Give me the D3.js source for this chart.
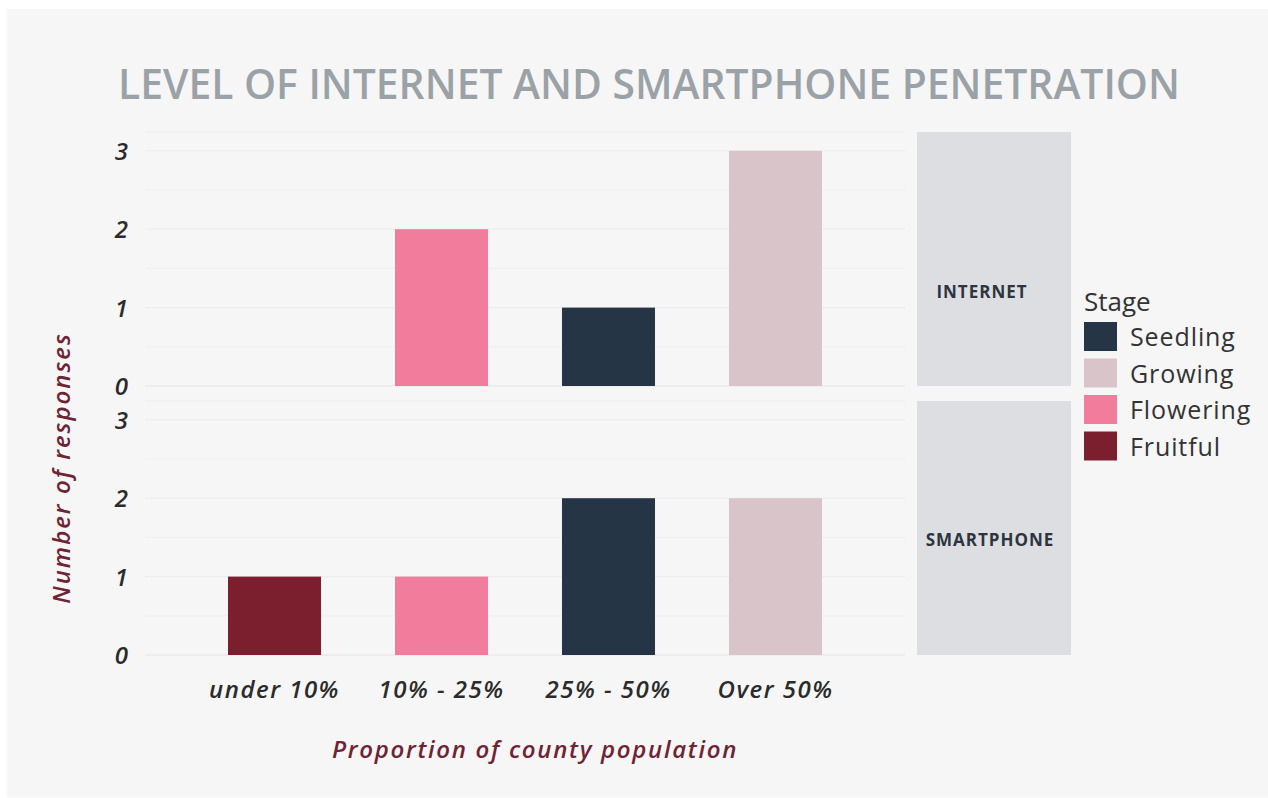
<!DOCTYPE html>
<html lang="en">
<head>
<meta charset="utf-8">
<title>internet and smartphone penetration</title>
<script src="https://d3js.org/d3.v7.min.js"></script>
<style>
  body{margin:0;background:#fff;font-family:"Open Sans",sans-serif;}
</style>
</head>
<body>
<div id="chart"></div>
<script>
// data
var categories = ["under 10%", "10% - 25%", "25% - 50%", "Over 50%"]
var stages = ["Seedling", "Growing", "Flowering", "Fruitful"]
var stageColors = ["#253545", "#d9c5c9", "#f17c9b", "#7b1f2e"]
var facets = ["INTERNET", "SMARTPHONE"]
var yTicks = [0, 1, 2, 3]

// one entry per bar: category, stage, count
var internetBars = [
  {cat: "10% - 25%", stage: "Flowering", value: 2},
  {cat: "25% - 50%", stage: "Seedling", value: 1},
  {cat: "Over 50%", stage: "Growing", value: 3}
]
var smartphoneBars = [
  {cat: "under 10%", stage: "Fruitful", value: 1},
  {cat: "10% - 25%", stage: "Flowering", value: 1},
  {cat: "25% - 50%", stage: "Seedling", value: 2},
  {cat: "Over 50%", stage: "Growing", value: 2}
]
var facetData = [internetBars, smartphoneBars]

var W = 1268, H = 798
var svg = d3.select("#chart").append("svg").attr("width", W).attr("height", H)

// background card
svg.append("rect").attr("x", 7).attr("y", 9).attr("width", W - 7).attr("height", 788).attr("fill", "#f6f6f6")

svg.append("text")
  .attr("x", 649).attr("y", 99)
  .attr("text-anchor", "middle")
  .attr("font-size", 40.8).attr("font-weight", 600)
  .attr("fill", "#9ba2a7")
  .text("LEVEL OF INTERNET AND SMARTPHONE PENETRATION")

var plotLeft = 145, plotRight = 905
var panelH = 254, panelTops = [132, 401]
var stripX = 917, stripW = 154
var stripLabelOffset = [160, 139]

var x = d3.scaleBand().domain(categories).range([plotLeft, plotRight]).paddingInner(0.443).paddingOuter(0.497)
var color = d3.scaleOrdinal().domain(stages).range(stageColors)

facets.forEach(function(name, i){
  var top = panelTops[i]
  var y = d3.scaleLinear().domain([0, 3.24]).range([top + panelH, top])
  var g = svg.append("g")

  // minor grid
  g.selectAll(".minor")
    .data([0.5, 1.5, 2.5])
    .enter().append("line")
    .attr("x1", plotLeft).attr("x2", plotRight)
    .attr("y1", function(d){ return y(d) }).attr("y2", function(d){ return y(d) })
    .attr("stroke", "#efefef").attr("stroke-width", 1)

  // major grid
  g.selectAll(".major")
    .data(yTicks)
    .enter().append("line")
    .attr("x1", plotLeft).attr("x2", plotRight)
    .attr("y1", function(d){ return y(d) }).attr("y2", function(d){ return y(d) })
    .attr("stroke", function(d){ return d === 0 ? "#e4e4e4" : "#ebebeb" }).attr("stroke-width", 1)

  // top border line of panel
  g.append("line")
    .attr("x1", plotLeft).attr("x2", plotRight)
    .attr("y1", top).attr("y2", top)
    .attr("stroke", "#eeeeee")

  // y tick labels
  g.selectAll(".ytick")
    .data(yTicks)
    .enter().append("text")
    .attr("x", 128).attr("y", function(d){ return y(d) + 9 })
    .attr("text-anchor", "end")
    .attr("font-size", 24).attr("font-style", "italic").attr("font-weight", 600)
    .attr("fill", "#2b2b2b")
    .text(function(d){ return d })

  // bars
  g.selectAll(".bar")
    .data(facetData[i])
    .enter().append("rect")
    .attr("x", function(d){ return x(d.cat) })
    .attr("width", x.bandwidth())
    .attr("y", function(d){ return y(d.value) })
    .attr("height", function(d){ return y(0) - y(d.value) })
    .attr("fill", function(d){ return color(d.stage) })

  // facet strip
  g.append("rect")
    .attr("x", stripX).attr("y", top).attr("width", stripW).attr("height", panelH)
    .attr("fill", "#dcdee1")
  g.append("text")
    .attr("x", stripX + stripW / 2 - (i === 0 ? 12 : 4)).attr("y", top + stripLabelOffset[i] + 6)
    .attr("text-anchor", "middle")
    .attr("font-size", 17).attr("font-weight", 700)
    .attr("letter-spacing", 1)
    .attr("fill", "#2e3540")
    .text(name)
})

// x tick labels
svg.selectAll(".xtick")
  .data(categories)
  .enter().append("text")
  .attr("x", function(d){ return x(d) + x.bandwidth() / 2 })
  .attr("y", 698)
  .attr("text-anchor", "middle")
  .attr("font-size", 24).attr("font-style", "italic").attr("font-weight", 600)
  .attr("letter-spacing", 1.5)
  .attr("fill", "#2b2b2b")
  .text(function(d){ return d })

// axis titles
svg.append("text")
  .attr("x", 535).attr("y", 758)
  .attr("text-anchor", "middle")
  .attr("font-size", 24).attr("font-style", "italic").attr("font-weight", 600)
  .attr("letter-spacing", 1.7)
  .attr("fill", "#6e2434")
  .text("Proportion of county population")

svg.append("text")
  .attr("transform", "translate(70,468) rotate(-90)")
  .attr("text-anchor", "middle")
  .attr("font-size", 24).attr("font-style", "italic").attr("font-weight", 600)
  .attr("letter-spacing", 2)
  .attr("fill", "#6e2434")
  .text("Number of responses")

// legend
var legend = svg.append("g").attr("transform", "translate(1084,0)")
legend.append("text")
  .attr("x", 0).attr("y", 311)
  .attr("font-size", 26).attr("fill", "#333")
  .text("Stage")
var items = legend.selectAll(".item")
  .data(stages)
  .enter().append("g")
  .attr("transform", function(d, i){ return "translate(0," + (322 + i * 36.5) + ")" })
items.append("rect")
  .attr("width", 33).attr("height", 29)
  .attr("fill", function(d){ return color(d) })
items.append("text")
  .attr("x", 46).attr("y", 24)
  .attr("font-size", 25).attr("fill", "#333")
  .attr("letter-spacing", 0.9)
  .text(function(d){ return d })
</script>
</body>
</html>
